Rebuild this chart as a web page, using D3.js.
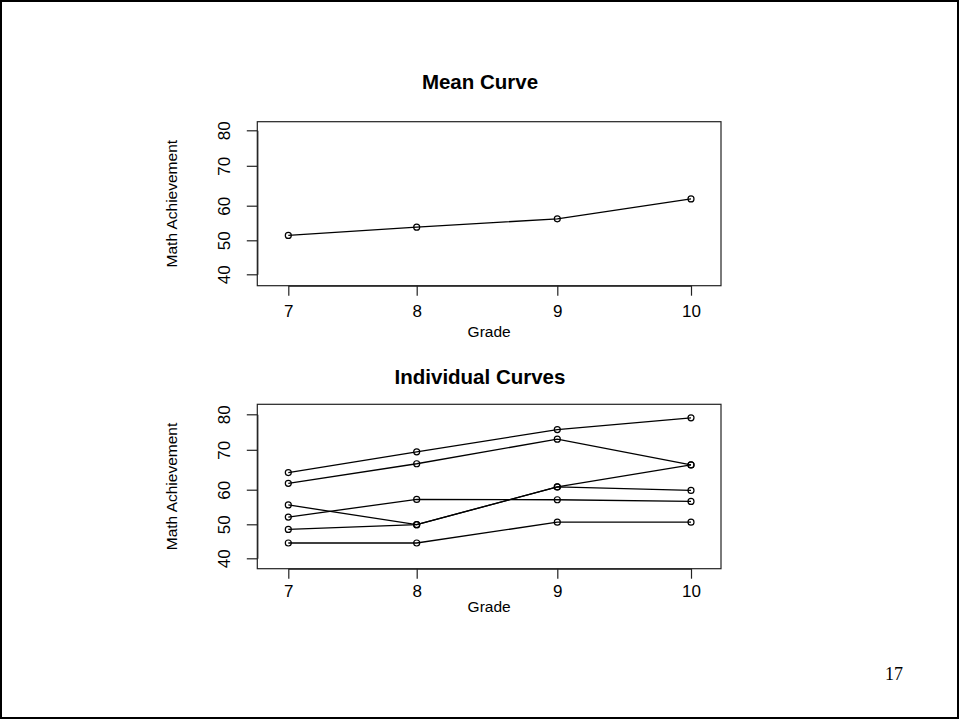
<!DOCTYPE html>
<html><head><meta charset="utf-8">
<script src="https://cdn.jsdelivr.net/npm/d3@7"></script>
<style>
body{margin:0;background:#fff}
svg{display:block}
</style>
</head><body>
<svg id="chart" width="959" height="719"></svg>
<script>
// ---- data ----
const grades = [7, 8, 9, 10];
const yTicks = [40, 50, 60, 70, 80];
const meanCurve = [51.4, 53.8, 56.2, 61.7];
const subjectA = [64.3, 69.5, 75.7, 79.0];
const subjectB = [61.6, 66.5, 73.0, 66.2];
const subjectC = [55.6, 49.9, 60.7, 66.2];
const subjectD = [48.5, 49.9, 60.7, 59.8];
const subjectE = [52.1, 57.2, 57.1, 56.6];
const subjectF = [44.5, 44.5, 50.6, 50.6];
const individualCurves = [subjectA, subjectB, subjectC, subjectD, subjectE, subjectF];
const titles = ["Mean Curve", "Individual Curves"];
const xLabel = "Grade";
const yLabel = "Math Achievement";
const pageNumber = "17";

// ---- layout ----
const SANS = '"Liberation Sans",Arial,sans-serif';
const SERIF = '"Liberation Serif","Times New Roman",serif';
const svg = d3.select("#chart");
const W = 959, H = 719;
svg.append("rect").attr("x", 1).attr("y", 1).attr("width", W - 2).attr("height", H - 2)
  .attr("fill", "#fff").attr("stroke", "#000").attr("stroke-width", 2);

const boxLeft = 257.3, boxRight = 721;
// the scanned figure is slightly non-uniform; piecewise scales follow the tick positions
const x = d3.scaleLinear().domain(grades).range([288.3, 416.7, 557.3, 691]);
const yRel = [0, -34, -68.6, -108.5, -144];

const panels = [
  {title: titles[0], series: [meanCurve], top: 121.7, bottom: 285.7, base: 274.3,
   titleY: 89, tickPad: 9, labelY: 337},
  {title: titles[1], series: individualCurves, top: 404.3, bottom: 568.7, base: 558.3,
   titleY: 383.5, tickPad: 6.5, labelY: 612}
];

panels.forEach(p => {
  const y = d3.scaleLinear().domain(yTicks).range(yRel.map(r => p.base + r));
  const g = svg.append("g");

  // box
  g.append("rect").attr("x", boxLeft).attr("y", p.top)
    .attr("width", boxRight - boxLeft).attr("height", p.bottom - p.top)
    .attr("fill", "none").attr("stroke", "#222").attr("stroke-width", 1.2);

  // x axis
  const xa = g.append("g").attr("transform", `translate(0,${p.bottom})`)
    .call(d3.axisBottom(x).tickValues(grades).tickFormat(d3.format("d"))
      .tickSize(10).tickSizeOuter(0).tickPadding(p.tickPad));
  xa.selectAll("path,line").attr("stroke", "#222").attr("stroke-width", 1.2);
  xa.selectAll("text").attr("font-size", 17).attr("font-family", SANS).attr("fill", "#000");

  // y axis
  const ya = g.append("g").attr("transform", `translate(${boxLeft},0)`)
    .call(d3.axisLeft(y).tickValues(yTicks).tickFormat(d3.format("d"))
      .tickSize(10.5).tickSizeOuter(0));
  ya.selectAll("path,line").attr("stroke", "#222").attr("stroke-width", 1.2);
  ya.selectAll("text")
    .attr("font-size", 17).attr("font-family", SANS).attr("fill", "#000")
    .attr("x", null).attr("dy", "0.35em")
    .attr("text-anchor", "middle")
    .attr("transform", "translate(-33.3,0) rotate(-90)");

  // title
  g.append("text").attr("x", 480).attr("y", p.titleY).attr("text-anchor", "middle")
    .attr("font-family", SANS).attr("font-size", 20.5).attr("font-weight", "bold").text(p.title);

  // axis labels
  g.append("text").attr("x", (boxLeft + boxRight) / 2).attr("y", p.labelY)
    .attr("text-anchor", "middle").attr("font-family", SANS).attr("font-size", 15.5).text(xLabel);
  g.append("text").attr("transform", `translate(177,${(p.top + p.bottom) / 2}) rotate(-90)`)
    .attr("text-anchor", "middle").attr("font-family", SANS).attr("font-size", 15.5).text(yLabel);

  // curves
  const line = d3.line().x((d, i) => x(grades[i])).y(d => y(d));
  p.series.forEach(s => {
    g.append("path").datum(s).attr("d", line)
      .attr("fill", "none").attr("stroke", "#000").attr("stroke-width", 1.3);
    g.selectAll(null).data(s).join("circle")
      .attr("cx", (d, i) => x(grades[i])).attr("cy", d => y(d)).attr("r", 3)
      .attr("fill", "none").attr("stroke", "#000").attr("stroke-width", 1.2);
  });
});

svg.append("text").attr("x", 894).attr("y", 679.5).attr("text-anchor", "middle")
  .attr("font-family", SERIF).attr("font-size", 18).attr("fill", "#000").text(pageNumber);
</script>
</body></html>
